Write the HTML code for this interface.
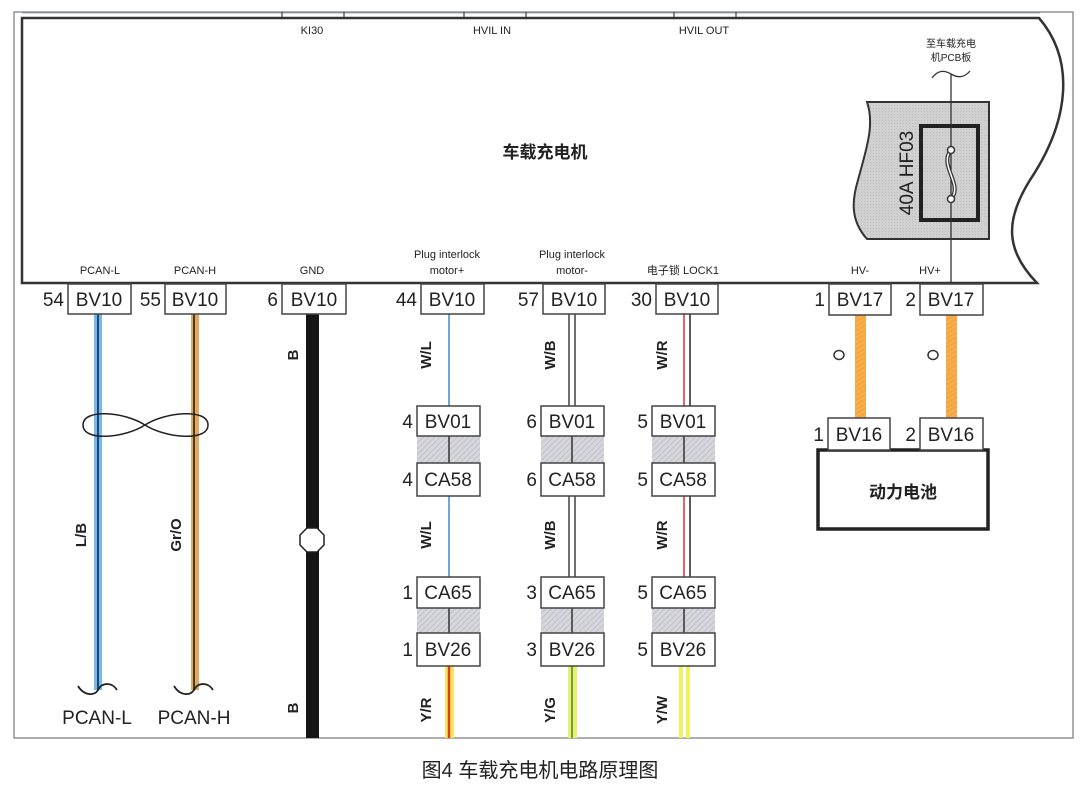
<!DOCTYPE html>
<html><head><meta charset="utf-8"><style>
html,body{margin:0;padding:0;background:#fff;}
svg{display:block;}
text{font-family:"Liberation Sans","Noto Sans CJK SC",sans-serif;fill:#222;}
</style></head><body>
<svg width="1080" height="800" viewBox="0 0 1080 800" xmlns="http://www.w3.org/2000/svg">
<defs>
<pattern id="hatch" width="4" height="4" patternUnits="userSpaceOnUse" patternTransform="rotate(45)">
<rect width="4" height="4" fill="#d6d6dc"/><line x1="0" y1="0" x2="0" y2="4" stroke="#b8b8c4" stroke-width="1.5"/></pattern>
<pattern id="ohatch" width="4" height="4" patternUnits="userSpaceOnUse" patternTransform="rotate(60)">
<rect width="4" height="4" fill="#f4a640"/><line x1="0" y1="0" x2="0" y2="4" stroke="#f8c070" stroke-width="1.2"/></pattern>
<pattern id="fhatch" width="3" height="3" patternUnits="userSpaceOnUse">
<rect width="3" height="3" fill="#d0d0d0"/><rect width="1" height="1" fill="#bdbdbd"/></pattern>
</defs>
<rect width="1080" height="800" fill="#fff"/>
<rect x="14" y="12" width="1059" height="726" fill="none" stroke="#777" stroke-width="1.2"/>
<line x1="22" y1="13" x2="1040" y2="13" stroke="#9ab" stroke-width="1"/>
<g stroke="#444" stroke-width="1.2">
<line x1="282" y1="12" x2="282" y2="19"/><line x1="344" y1="12" x2="344" y2="19"/>
<line x1="464" y1="12" x2="464" y2="19"/><line x1="526" y1="12" x2="526" y2="19"/>
<line x1="674" y1="12" x2="674" y2="19"/><line x1="736" y1="12" x2="736" y2="19"/>
</g>
<path d="M22,18 L1039,18 C1075,60 1070,120 1030,180 C1005,220 1005,250 1037,283 L22,283 Z" fill="#fff" stroke="#333" stroke-width="2.5"/>
<g font-size="11" text-anchor="middle">
<text x="312" y="34">KI30</text><text x="492" y="34">HVIL IN</text><text x="704" y="34">HVIL OUT</text>
</g>
<text x="545" y="158" font-size="17" font-weight="bold" text-anchor="middle">车载充电机</text>
<text x="951" y="47" font-size="10" text-anchor="middle">至车载充电</text>
<text x="951" y="61" font-size="10" text-anchor="middle">机PCB板</text>
<path d="M932,78 C938,70 944,70 951,74 C958,78 964,78 970,71" fill="none" stroke="#333" stroke-width="1.3"/>
<path d="M867,102 L989,102 L989,239 L867,239 C850,220 852,200 858,180 C866,150 875,125 867,102 Z" fill="url(#fhatch)" stroke="#333" stroke-width="2"/>
<rect x="921" y="126" width="57" height="94" fill="none" stroke="#222" stroke-width="4"/>
<line x1="951" y1="74" x2="951" y2="284" stroke="#333" stroke-width="1.3"/>
<path d="M951,150 C938,165 964,185 951,199" fill="none" stroke="#333" stroke-width="4"/>
<path d="M951,150 C938,165 964,185 951,199" fill="none" stroke="#fff" stroke-width="1.5"/>
<circle cx="951" cy="150" r="3.5" fill="#fff" stroke="#333" stroke-width="1.5"/>
<circle cx="951" cy="199" r="3.5" fill="#fff" stroke="#333" stroke-width="1.5"/>
<text transform="translate(913,173) rotate(-90)" font-size="19" text-anchor="middle">40A HF03</text>
<g font-size="11" text-anchor="middle">
<text x="100" y="274">PCAN-L</text><text x="195" y="274">PCAN-H</text><text x="312" y="274">GND</text>
<text x="447" y="258">Plug interlock</text><text x="447" y="274">motor+</text>
<text x="572" y="258">Plug interlock</text><text x="572" y="274">motor-</text>
<text x="683" y="274">电子锁 LOCK1</text>
<text x="860" y="274">HV-</text><text x="930" y="274">HV+</text>
</g>
<rect x="94" y="314" width="8" height="376" fill="#7bb8e8"/>
<line x1="98" y1="314" x2="98" y2="690" stroke="#1a4a7a" stroke-width="2"/>
<rect x="191" y="314" width="8" height="376" fill="#e0a860"/>
<line x1="194" y1="314" x2="194" y2="690" stroke="#4a3a28" stroke-width="2"/>
<rect x="306" y="314" width="13" height="424" fill="#151515"/>
<polygon points="307,528 317,528 324,535 324,545 317,552 307,552 300,545 300,535" fill="#fff" stroke="#222" stroke-width="1.5"/>
<path d="M145,425 C125,412 83,408 83,425 C83,442 125,438 145,425 C165,412 208,408 208,425 C208,442 165,438 145,425 Z" fill="none" stroke="#222" stroke-width="1.5"/>
<path d="M78,686 C84,696 95,696 98,690 C102,682 112,682 117,690" fill="none" stroke="#222" stroke-width="1.8"/>
<path d="M174,686 C180,696 190,696 194,690 C198,682 208,682 213,690" fill="none" stroke="#222" stroke-width="1.8"/>
<g font-size="19" text-anchor="middle">
<text x="97" y="724">PCAN-L</text><text x="194" y="724">PCAN-H</text>
</g>
<g font-size="15" font-weight="bold">
<text transform="translate(86,535) rotate(-90)" text-anchor="middle">L/B</text>
<text transform="translate(181,535) rotate(-90)" text-anchor="middle">Gr/O</text>
<text transform="translate(298,355) rotate(-90)" text-anchor="middle">B</text>
<text transform="translate(298,708) rotate(-90)" text-anchor="middle">B</text>
</g>
<line x1="449" y1="314" x2="449" y2="406" stroke="#4a90d0" stroke-width="1.6"/>
<line x1="449" y1="496" x2="449" y2="577" stroke="#4a90d0" stroke-width="1.6"/>
<rect x="445" y="666" width="9" height="72" fill="#f5e860"/>
<line x1="449" y1="666" x2="449" y2="738" stroke="#d84020" stroke-width="2.5"/>
<g stroke="#222" stroke-width="1.3">
<line x1="569" y1="314" x2="569" y2="406"/><line x1="575" y1="314" x2="575" y2="406"/>
<line x1="569" y1="496" x2="569" y2="577"/><line x1="575" y1="496" x2="575" y2="577"/>
</g>
<rect x="568" y="666" width="9" height="72" fill="#e8f070"/>
<line x1="572" y1="666" x2="572" y2="738" stroke="#70a040" stroke-width="2"/>
<g stroke-width="1.5">
<line x1="684" y1="314" x2="684" y2="406" stroke="#d83030"/><line x1="690" y1="314" x2="690" y2="406" stroke="#222"/>
<line x1="684" y1="496" x2="684" y2="577" stroke="#d83030"/><line x1="690" y1="496" x2="690" y2="577" stroke="#222"/>
</g>
<rect x="679" y="666" width="4" height="72" fill="#f0f060"/><rect x="686" y="666" width="4" height="72" fill="#f0f060"/>
<g>
<rect x="417" y="436" width="63" height="27" fill="url(#hatch)"/>
<rect x="417" y="608" width="63" height="25" fill="url(#hatch)"/>
<rect x="541" y="436" width="63" height="27" fill="url(#hatch)"/>
<rect x="541" y="608" width="63" height="25" fill="url(#hatch)"/>
<rect x="652" y="436" width="63" height="27" fill="url(#hatch)"/>
<rect x="652" y="608" width="63" height="25" fill="url(#hatch)"/>
</g>
<g stroke="#333" stroke-width="1.5">
<line x1="449" y1="436" x2="449" y2="463"/><line x1="449" y1="608" x2="449" y2="633"/>
<line x1="572" y1="436" x2="572" y2="463"/><line x1="572" y1="608" x2="572" y2="633"/>
<line x1="684" y1="436" x2="684" y2="463"/><line x1="684" y1="608" x2="684" y2="633"/>
</g>
<g font-size="15" font-weight="bold" text-anchor="middle">
<text transform="translate(431,355) rotate(-90)">W/L</text>
<text transform="translate(431,535) rotate(-90)">W/L</text>
<text transform="translate(431,710) rotate(-90)">Y/R</text>
<text transform="translate(555,355) rotate(-90)">W/B</text>
<text transform="translate(555,535) rotate(-90)">W/B</text>
<text transform="translate(555,710) rotate(-90)">Y/G</text>
<text transform="translate(667,355) rotate(-90)">W/R</text>
<text transform="translate(667,535) rotate(-90)">W/R</text>
<text transform="translate(667,710) rotate(-90)">Y/W</text>
</g>
<rect x="855" y="315" width="11" height="103" fill="url(#ohatch)"/>
<rect x="946" y="315" width="11" height="103" fill="url(#ohatch)"/>
<ellipse cx="839" cy="355" rx="5" ry="4.5" fill="none" stroke="#333" stroke-width="1.5"/>
<ellipse cx="933" cy="355" rx="5" ry="4.5" fill="none" stroke="#333" stroke-width="1.5"/>
<rect x="818" y="450" width="170" height="79" fill="#fff" stroke="#222" stroke-width="3.5"/>
<text x="903" y="498" font-size="17" font-weight="bold" text-anchor="middle">动力电池</text>
<g fill="#fff" stroke="#444" stroke-width="1.5">
<rect x="68" y="284" width="63" height="30"/><rect x="165" y="284" width="61" height="30"/>
<rect x="282" y="284" width="64" height="30"/><rect x="421" y="284" width="63" height="30"/>
<rect x="543" y="284" width="62" height="30"/><rect x="656" y="284" width="62" height="30"/>
<rect x="829" y="284" width="62" height="31"/><rect x="920" y="284" width="63" height="31"/>
<rect x="417" y="406" width="63" height="30"/><rect x="417" y="463" width="63" height="33"/>
<rect x="417" y="577" width="63" height="31"/><rect x="417" y="633" width="63" height="33"/>
<rect x="541" y="406" width="63" height="30"/><rect x="541" y="463" width="63" height="33"/>
<rect x="541" y="577" width="63" height="31"/><rect x="541" y="633" width="63" height="33"/>
<rect x="652" y="406" width="63" height="30"/><rect x="652" y="463" width="63" height="33"/>
<rect x="652" y="577" width="63" height="31"/><rect x="652" y="633" width="63" height="33"/>
<rect x="828" y="418" width="62" height="32"/><rect x="920" y="418" width="63" height="32"/>
</g>
<g font-size="19" text-anchor="middle">
<text x="99" y="306">BV10</text><text x="195" y="306">BV10</text><text x="314" y="306">BV10</text>
<text x="452" y="306">BV10</text><text x="574" y="306">BV10</text><text x="687" y="306">BV10</text>
<text x="860" y="306">BV17</text><text x="951" y="306">BV17</text>
<text x="448" y="428">BV01</text><text x="448" y="486">CA58</text><text x="448" y="599">CA65</text><text x="448" y="656">BV26</text>
<text x="572" y="428">BV01</text><text x="572" y="486">CA58</text><text x="572" y="599">CA65</text><text x="572" y="656">BV26</text>
<text x="683" y="428">BV01</text><text x="683" y="486">CA58</text><text x="683" y="599">CA65</text><text x="683" y="656">BV26</text>
<text x="859" y="441">BV16</text><text x="951" y="441">BV16</text>
</g>
<g font-size="19" text-anchor="end">
<text x="64" y="306">54</text><text x="161" y="306">55</text><text x="278" y="306">6</text>
<text x="417" y="306">44</text><text x="539" y="306">57</text><text x="652" y="306">30</text>
<text x="825" y="306">1</text><text x="916" y="306">2</text>
<text x="413" y="428">4</text><text x="413" y="486">4</text><text x="413" y="599">1</text><text x="413" y="656">1</text>
<text x="537" y="428">6</text><text x="537" y="486">6</text><text x="537" y="599">3</text><text x="537" y="656">3</text>
<text x="648" y="428">5</text><text x="648" y="486">5</text><text x="648" y="599">5</text><text x="648" y="656">5</text>
<text x="824" y="441">1</text><text x="916" y="441">2</text>
</g>
<text x="540" y="777" font-size="20" text-anchor="middle" fill="#333">图4 车载充电机电路原理图</text>
</svg>
</body></html>
